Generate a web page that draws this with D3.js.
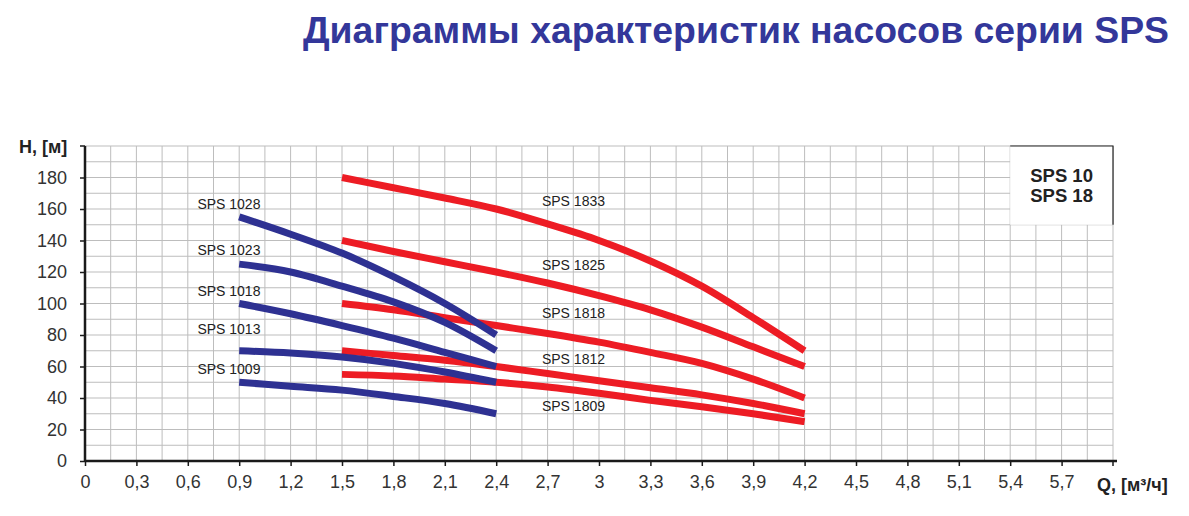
<!DOCTYPE html>
<html>
<head>
<meta charset="utf-8">
<script src="https://cdn.jsdelivr.net/npm/d3@7"></script>
<style>
  html, body { margin: 0; padding: 0; background: #fff; }
  svg { display: block; font-family: "Liberation Sans", Arial, sans-serif; }
</style>
</head>
<body>
<div id="chart"></div>
<script>
const title = "Диаграммы характеристик насосов серии SPS";
const yAxisLabel = "H, [м]";
const xAxisLabel = "Q, [м³/ч]";
const legendLines = ["SPS 10", "SPS 18"];

// flow points, m³/h
const qBlue = [0.9, 1.2, 1.5, 1.8, 2.1, 2.4];
const qRed = [1.5, 1.8, 2.1, 2.4, 2.7, 3.0, 3.3, 3.6, 3.9, 4.2];

// head, m
const sps1028 = [155, 144, 132, 117, 100, 80];
const sps1023 = [125, 120, 111, 101, 88, 70];
const sps1018 = [100, 93.5, 86, 78, 69, 60];
const sps1013 = [70, 68.5, 66, 62, 56.5, 50];
const sps1009 = [50, 47.5, 45, 41, 36.5, 30];

const sps1833 = [180, 173.5, 167, 160, 150.5, 140, 127, 111, 91, 70];
const sps1825 = [140, 133, 126.5, 120, 113, 105, 96, 85, 72.5, 60];
const sps1818 = [100, 96, 91, 86, 81, 75.5, 69, 62, 52, 40];
const sps1812 = [70, 67, 64, 60, 55.5, 51, 46.5, 42, 36.5, 30];
const sps1809 = [55, 54, 52, 50, 47, 43, 38.5, 34.5, 30, 25];

const xTicks = [0, 0.3, 0.6, 0.9, 1.2, 1.5, 1.8, 2.1, 2.4, 2.7, 3.0, 3.3, 3.6, 3.9, 4.2, 4.5, 4.8, 5.1, 5.4, 5.7];
const yTicks = [0, 20, 40, 60, 80, 100, 120, 140, 160, 180];

// label anchors in chart units (Q, H)
const blueLabels = [
  { name: "SPS 1028", q: 0.84, h: 160 },
  { name: "SPS 1023", q: 0.84, h: 131 },
  { name: "SPS 1018", q: 0.84, h: 105 },
  { name: "SPS 1013", q: 0.84, h: 80.5 },
  { name: "SPS 1009", q: 0.84, h: 55.5 },
];
const redLabels = [
  { name: "SPS 1833", q: 2.667, h: 162 },
  { name: "SPS 1825", q: 2.667, h: 121.5 },
  { name: "SPS 1818", q: 2.667, h: 91 },
  { name: "SPS 1812", q: 2.667, h: 61.5 },
  { name: "SPS 1809", q: 2.667, h: 32 },
];

const blueSeries = [sps1028, sps1023, sps1018, sps1013, sps1009];
const redSeries = [sps1833, sps1825, sps1818, sps1812, sps1809];

const width = 1189, height = 516;
const margin = { top: 146, right: 76, bottom: 55, left: 85 };
const innerWidth = width - margin.left - margin.right;
const innerHeight = height - margin.top - margin.bottom;

const blue = "#2e3192";
const red = "#ed1c24";
const ink = "#222";

const svg = d3.select("#chart").append("svg").attr("width", width).attr("height", height);

svg.append("text")
  .attr("x", 303).attr("y", 43)
  .attr("textLength", 866).attr("lengthAdjust", "spacingAndGlyphs")
  .attr("fill", "#33379a")
  .attr("font-family", "'Liberation Sans Narrow', 'Arial Narrow', 'Liberation Sans', sans-serif")
  .attr("font-weight", "bold")
  .attr("font-size", 36)
  .text(title);

const x = d3.scaleLinear().domain([0, 6]).range([0, innerWidth]);
const y = d3.scaleLinear().domain([0, 200]).range([innerHeight, 0]);

const g = svg.append("g").attr("transform", `translate(${margin.left},${margin.top})`);

// grid: 0.15 m³/h by 10 m
const grid = g.append("g").attr("stroke", "#bdbdbd").attr("stroke-width", 1);
grid.selectAll("line.v").data(d3.range(0, 41)).join("line")
  .attr("class", "v")
  .attr("x1", (i) => x(i * 0.15)).attr("x2", (i) => x(i * 0.15))
  .attr("y1", 0).attr("y2", innerHeight);
grid.selectAll("line.h").data(d3.range(0, 21)).join("line")
  .attr("class", "h")
  .attr("x1", 0).attr("x2", innerWidth)
  .attr("y1", (i) => y(i * 10)).attr("y2", (i) => y(i * 10));

// legend box covers the grid in the top-right corner
const box = g.append("g").attr("transform", `translate(${x(5.4)},0)`);
const boxW = x(6) - x(5.4), boxH = y(150) - y(200);
box.append("rect").attr("width", boxW).attr("height", boxH).attr("fill", "#fff");
box.append("path").attr("d", `M0,0H${boxW}V${boxH}`).attr("fill", "none").attr("stroke", ink).attr("stroke-width", 1.2);
box.selectAll("text").data(legendLines).join("text")
  .attr("x", boxW / 2).attr("y", (_, i) => 36 + i * 20)
  .attr("text-anchor", "middle")
  .attr("font-weight", "bold").attr("font-size", 18.5).attr("fill", ink)
  .text((d) => d);

const line = (qs) => d3.line()
  .x((_, i) => x(qs[i]))
  .y((d) => y(d))
  .curve(d3.curveMonotoneX);

const curves = g.append("g").attr("fill", "none").attr("stroke-width", 7).attr("stroke-linecap", "butt");
curves.selectAll("path.red").data(redSeries).join("path")
  .attr("class", "red").attr("stroke", red).attr("d", line(qRed));
curves.selectAll("path.blue").data(blueSeries).join("path")
  .attr("class", "blue").attr("stroke", blue).attr("d", line(qBlue));

const labels = g.append("g").attr("font-size", 14).attr("fill", ink);
labels.selectAll("text.b").data(blueLabels).join("text")
  .attr("class", "b")
  .attr("x", (d) => x(d.q)).attr("y", (d) => y(d.h))
  .attr("text-anchor", "middle")
  .text((d) => d.name);
labels.selectAll("text.r").data(redLabels).join("text")
  .attr("class", "r")
  .attr("x", (d) => x(d.q)).attr("y", (d) => y(d.h))
  .text((d) => d.name);

// axes
const fmt = (d) => String(+d.toFixed(1)).replace(".", ",");
const xAxis = g.append("g").attr("transform", `translate(0,${innerHeight})`)
  .call(d3.axisBottom(x).tickValues(xTicks).tickSize(5).tickPadding(9).tickFormat(fmt));
const yAxis = g.append("g")
  .call(d3.axisLeft(y).tickValues(yTicks).tickSize(5).tickPadding(13));
[xAxis, yAxis].forEach((a) => {
  a.attr("font-size", 18).attr("font-family", "'Liberation Sans', Arial, sans-serif");
  a.select(".domain").attr("stroke", "#1a1a1a").attr("stroke-width", 2.5);
  a.selectAll(".tick line").attr("stroke", "#1a1a1a").attr("stroke-width", 1.5);
  a.selectAll(".tick text").attr("fill", "#333");
});
xAxis.select(".domain").attr("d", `M0,0H${innerWidth + 4}`);
yAxis.select(".domain").attr("d", `M0,0V${innerHeight}`);
// end ticks at Q = 6 and H = 200 carry the axis titles instead of numbers
xAxis.append("line").attr("x1", x(6)).attr("x2", x(6)).attr("y1", 0).attr("y2", 5)
  .attr("stroke", "#1a1a1a").attr("stroke-width", 1.5);
yAxis.append("line").attr("x1", -5).attr("x2", 0).attr("y1", y(200)).attr("y2", y(200))
  .attr("stroke", "#1a1a1a").attr("stroke-width", 1.5);

svg.append("text")
  .attr("x", 19).attr("y", margin.top + 6.5)
  .attr("font-weight", "bold").attr("font-size", 18).attr("fill", ink)
  .text(yAxisLabel);
svg.append("text")
  .attr("x", 1097).attr("y", 491)
  .attr("font-weight", "bold").attr("font-size", 18).attr("fill", ink)
  .text(xAxisLabel);
</script>
</body>
</html>
